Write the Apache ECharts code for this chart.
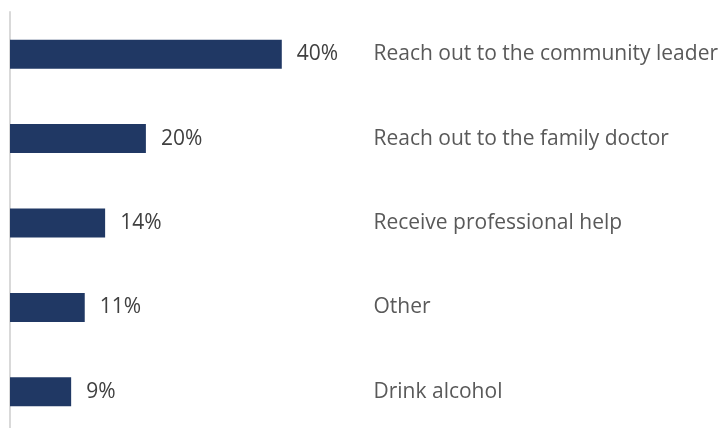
<!DOCTYPE html>
<html>
<head>
<meta charset="utf-8">
<script src="https://cdn.jsdelivr.net/npm/echarts@6/dist/echarts.min.js"></script>
<style>
  html, body { margin: 0; padding: 0; background: #ffffff; overflow: hidden; }
  #chart { width: 721px; height: 434px; }
</style>
</head>
<body>
<div id="chart"></div>
<script>
// Responses, listed top to bottom
const categories = [
  'Reach out to the community leader',
  'Reach out to the family doctor',
  'Receive professional help',
  'Other',
  'Drink alcohol'
];
const shares = [40, 20, 14, 11, 9];

const chart = echarts.init(document.getElementById('chart'));
const FONT = '"Open Sans", "Noto Sans", sans-serif';

chart.setOption({
  animation: false,
  grid: { left: 10, top: 12, width: 680, bottom: 0, containLabel: false },
  xAxis: {
    type: 'value', min: 0, max: 100,
    show: false
  },
  yAxis: [
    {
      type: 'category',
      data: categories,
      inverse: true,
      axisLine: { show: true, lineStyle: { color: '#d9d9d9', width: 2 } },
      axisTick: { show: false },
      axisLabel: { show: false }
    },
    {
      type: 'category',
      data: categories,
      inverse: true,
      position: 'right',
      offset: -316,
      axisLine: { show: false },
      axisTick: { show: false },
      axisLabel: {
        margin: 0,
        align: 'left',
        color: '#595959',
        fontFamily: FONT,
        fontSize: 21
      }
    }
  ],
  series: [{
    type: 'bar',
    data: shares,
    barWidth: 29,
    itemStyle: { color: '#203864' },
    label: {
      show: true,
      position: 'right',
      distance: 15,
      formatter: p => p.value + '%',
      color: '#404040',
      fontFamily: FONT,
      fontSize: 21
    }
  }]
});
</script>
</body>
</html>
